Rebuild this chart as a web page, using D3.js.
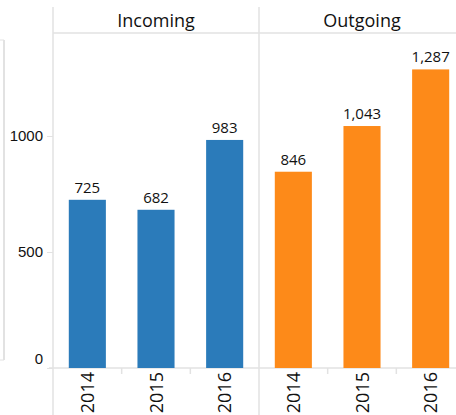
<!DOCTYPE html>
<html>
<head>
<meta charset="utf-8">
<script src="https://cdn.jsdelivr.net/npm/d3@7"></script>
<style>
  body { margin: 0; background: #fff; }
  svg { display: block; font-family: "Open Sans", sans-serif; }
</style>
</head>
<body>
<svg id="chart" width="456" height="415"></svg>
<script>
const panels = ["Incoming", "Outgoing"];
const years = ["2014", "2015", "2016"];
const incoming = [725, 682, 983];
const outgoing = [846, 1043, 1287];
const yTicks = [0, 500, 1000];
const colors = ["#2b7bba", "#fd8a19"];

const svg = d3.select("#chart");
const grid = "#e2e2e2";

const panelW = 206, plotLeft = 53, headerY = 33, baseY = 368;

const y = d3.scaleLinear().domain([0, 1000]).range([baseY, baseY - 232]);

const px = d3.scaleBand().domain(panels).range([plotLeft, plotLeft + 2 * panelW]);
const x = d3.scaleBand().domain(years).range([0, panelW]).paddingInner(0.46).paddingOuter(0.23);

// outer left frame
svg.append("line").attr("x1", 4).attr("x2", 4).attr("y1", 40).attr("y2", 360).attr("stroke", grid).attr("stroke-width", 2);
svg.append("line").attr("x1", 0).attr("x2", 4).attr("y1", 40).attr("y2", 40).attr("stroke", grid);
svg.append("line").attr("x1", 0).attr("x2", 4).attr("y1", 360).attr("y2", 360).attr("stroke", grid);

// header line and panel separators
svg.append("line").attr("x1", plotLeft).attr("x2", 456).attr("y1", headerY).attr("y2", headerY).attr("stroke", grid).attr("stroke-width", 1.5);
panels.forEach(p => {
  svg.append("line").attr("x1", px(p)).attr("x2", px(p)).attr("y1", 7).attr("y2", 415)
    .attr("stroke", grid).attr("stroke-width", 1.5);
});

// bottom axis line
svg.append("line").attr("x1", plotLeft - 4).attr("x2", 456).attr("y1", baseY).attr("y2", baseY).attr("stroke", grid).attr("stroke-width", 1.5);

// y axis
const yAxis = svg.append("g").attr("transform", `translate(${plotLeft},0)`)
  .call(d3.axisLeft(y).tickValues(yTicks).tickSize(6).tickPadding(4).tickFormat(d3.format("d")));
yAxis.select(".domain").remove();
yAxis.selectAll(".tick line").attr("stroke", grid);
yAxis.selectAll(".tick text").attr("fill", "#111").attr("font-size", 15)
  .attr("dy", d => d === 0 ? "-0.3em" : "0.32em");

const fmt = d3.format(",");
const data = [incoming, outgoing];

panels.forEach((p, i) => {
  const g = svg.append("g").attr("transform", `translate(${px(p)},0)`);
  g.append("text").attr("x", panelW / 2).attr("y", 27).attr("text-anchor", "middle")
    .attr("font-size", 18).attr("fill", "#111").text(p);

  const vals = years.map((yr, j) => ({ year: yr, value: data[i][j] }));
  g.selectAll("rect").data(vals).join("rect")
    .attr("x", d => x(d.year)).attr("width", x.bandwidth())
    .attr("y", d => y(d.value)).attr("height", d => baseY - y(d.value))
    .attr("fill", colors[i]);

  g.selectAll(".val").data(vals).join("text").attr("class", "val")
    .attr("x", d => x(d.year) + x.bandwidth() / 2).attr("y", d => y(d.value) - 7)
    .attr("text-anchor", "middle").attr("font-size", 15).attr("fill", "#111")
    .text(d => fmt(d.value));

  // ticks between bands
  years.slice(1).forEach(yr => {
    const tx = x(yr) - x.step() * x.paddingInner() / 2;
    g.append("line").attr("x1", tx).attr("x2", tx).attr("y1", baseY).attr("y2", baseY + 6).attr("stroke", grid).attr("stroke-width", 1.5);
  });

  g.selectAll(".yr").data(years).join("text").attr("class", "yr")
    .attr("transform", d => `translate(${x(d) + x.bandwidth() / 2 + 6.5},${baseY + 4}) rotate(-90)`)
    .attr("text-anchor", "end").attr("font-size", 18).attr("fill", "#111")
    .text(d => d);
});
</script>
</body>
</html>
